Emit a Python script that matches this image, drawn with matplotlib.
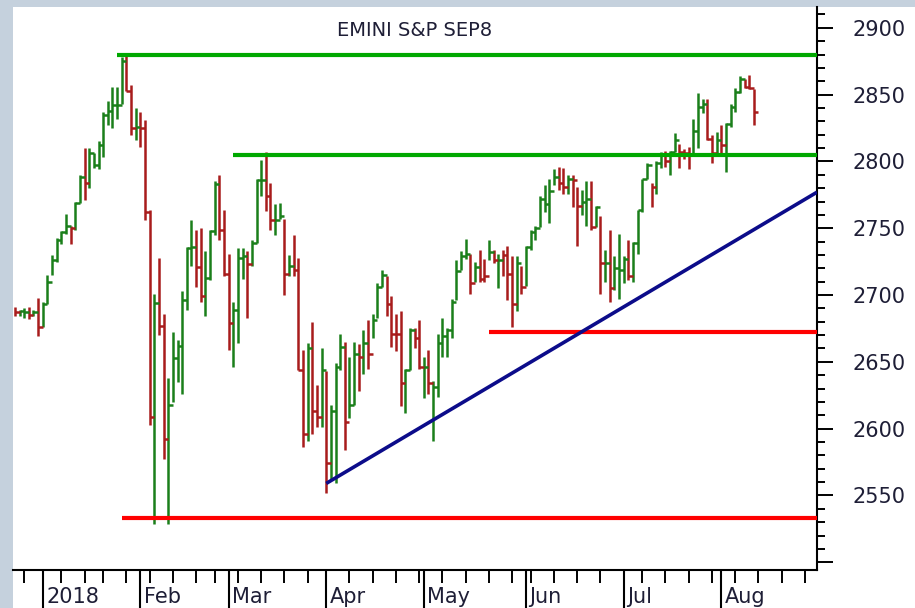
import numpy as np
import pandas as pd
import matplotlib
matplotlib.use("Agg")
import matplotlib.pyplot as plt
import matplotlib.transforms as mtransforms
from matplotlib.patches import Rectangle

# ---------------- data (daily bars, Dec 21 2017 .. Aug 10 2018) ----------------
holidays = ["2017-12-25", "2018-01-01", "2018-01-15", "2018-02-19",
            "2018-03-30", "2018-05-28", "2018-07-04"]

high_dec = [2691, 2689, 2690, 2691, 2689, 2698]
low_dec = [2684, 2684, 2683, 2682, 2684, 2669]
close_dec = [2687, 2688, 2687, 2685, 2687, 2676]
dir_dec = "rggrgr"

high_jan = [2695, 2715, 2730, 2743, 2748, 2761, 2752, 2770, 2790, 2810, 2810,
            2806, 2815, 2837, 2845, 2856, 2856, 2878, 2880, 2857, 2840]
low_jan = [2676, 2693, 2715, 2725, 2738, 2746, 2738, 2749, 2769, 2771, 2780,
           2795, 2794, 2803, 2827, 2825, 2832, 2843, 2853, 2820, 2816]
close_jan = [2693, 2710, 2726, 2741, 2747, 2752, 2750, 2769, 2788, 2784, 2806,
             2797, 2812, 2835, 2838, 2842, 2842, 2875, 2853, 2825, 2826]
dir_jan = "ggggggrggrggggggggrrg"

high_feb = [2837, 2831, 2764, 2701, 2728, 2686, 2638, 2672, 2666, 2703, 2736,
            2756, 2749, 2750, 2733, 2749, 2785, 2790, 2764]
low_feb = [2811, 2756, 2603, 2529, 2670, 2577, 2529, 2620, 2635, 2626, 2689,
           2722, 2706, 2695, 2684, 2711, 2745, 2741, 2714]
close_feb = [2825, 2762, 2609, 2694, 2677, 2592, 2618, 2653, 2662, 2696, 2735,
             2736, 2721, 2699, 2713, 2748, 2783, 2749, 2716]
dir_feb = "rrrgrrggggggrrgggrr"

high_mar = [2731, 2695, 2735, 2735, 2733, 2741, 2787, 2801, 2807, 2784, 2768,
            2769, 2757, 2730, 2745, 2728, 2659, 2664, 2680, 2633, 2660]
low_mar = [2659, 2646, 2664, 2712, 2683, 2722, 2739, 2774, 2763, 2749, 2745,
           2757, 2700, 2714, 2714, 2644, 2586, 2591, 2596, 2601, 2601]
close_mar = [2679, 2689, 2728, 2729, 2723, 2739, 2786, 2786, 2774, 2756, 2756,
             2759, 2716, 2722, 2719, 2644, 2596, 2660, 2613, 2609, 2644]
dir_mar = "rgggrgggrrggrgrrrgrrg"

high_apr = [2643, 2618, 2649, 2671, 2665, 2654, 2665, 2663, 2674, 2681, 2686,
            2709, 2719, 2714, 2699, 2686, 2688, 2645, 2675, 2675, 2681]
low_apr = [2552, 2562, 2559, 2644, 2584, 2608, 2618, 2628, 2641, 2645, 2668,
           2683, 2706, 2684, 2661, 2658, 2617, 2612, 2644, 2660, 2645]
close_apr = [2574, 2613, 2646, 2661, 2605, 2618, 2656, 2654, 2664, 2656, 2681,
             2706, 2715, 2693, 2671, 2671, 2634, 2644, 2674, 2668, 2646]
dir_apr = "rgggrggrgrgggrrrrggrr"

high_may = [2654, 2659, 2636, 2671, 2683, 2675, 2697, 2726, 2733, 2742, 2731,
            2725, 2734, 2727, 2741, 2734, 2731, 2734, 2737, 2729, 2729, 2722]
low_may = [2623, 2626, 2591, 2624, 2654, 2654, 2668, 2696, 2719, 2727, 2701,
           2710, 2710, 2710, 2726, 2724, 2705, 2714, 2696, 2676, 2688, 2701]
close_may = [2646, 2634, 2631, 2664, 2669, 2674, 2695, 2718, 2729, 2731, 2709,
             2721, 2712, 2714, 2732, 2726, 2726, 2730, 2716, 2693, 2724, 2706]
dir_may = "grggggggggrgrrgrgrrrgr"

high_jun = [2737, 2749, 2752, 2774, 2782, 2787, 2794, 2796, 2795, 2790, 2790,
            2781, 2779, 2785, 2785, 2767, 2759, 2734, 2749, 2729, 2746]
low_jun = [2707, 2734, 2741, 2751, 2762, 2754, 2782, 2779, 2776, 2776, 2766,
           2737, 2760, 2752, 2749, 2751, 2701, 2710, 2695, 2704, 2697]
close_jun = [2736, 2747, 2750, 2772, 2768, 2778, 2788, 2784, 2781, 2787, 2786,
             2767, 2770, 2772, 2751, 2766, 2724, 2724, 2705, 2720, 2719]
dir_jun = "gggggggrrgrrggrgrgrgg"

high_jul = [2729, 2741, 2740, 2764, 2787, 2799, 2784, 2800, 2807, 2808, 2808,
            2821, 2813, 2809, 2811, 2832, 2851, 2847, 2847, 2820, 2822]
low_jul = [2709, 2711, 2710, 2731, 2762, 2787, 2766, 2776, 2795, 2796, 2790,
           2807, 2795, 2802, 2794, 2806, 2810, 2836, 2816, 2799, 2804]
close_jul = [2727, 2714, 2739, 2764, 2787, 2797, 2781, 2799, 2805, 2800, 2807,
             2816, 2807, 2806, 2805, 2823, 2841, 2843, 2817, 2806, 2816]
dir_jul = "grggggrggrggrrrgggrrg"

high_aug = [2827, 2829, 2843, 2855, 2864, 2862, 2865, 2854]
low_aug = [2806, 2792, 2826, 2837, 2851, 2855, 2854, 2827]
close_aug = [2812, 2828, 2841, 2852, 2862, 2856, 2855, 2837]
dir_aug = "rggggrrr"

# support / resistance levels: (value, start date)
green_levels = [(2880, "2018-01-25"), (2805, "2018-03-02")]
red_levels = [(2533, "2018-01-26"), (2672, "2018-05-21")]
trend_start = ("2018-04-02", 2559)
trend_end = ("2018-08-29", 2777)

title = "EMINI S&P SEP8"
month_labels = ["2018", "Feb", "Mar", "Apr", "May", "Jun", "Jul", "Aug"]

# ---------------- assemble ----------------
high = np.array(high_dec + high_jan + high_feb + high_mar + high_apr + high_may + high_jun + high_jul + high_aug, float)
low = np.array(low_dec + low_jan + low_feb + low_mar + low_apr + low_may + low_jun + low_jul + low_aug, float)
close = np.array(close_dec + close_jan + close_feb + close_mar + close_apr + close_may + close_jun + close_jul + close_aug, float)
dirs = dir_dec + dir_jan + dir_feb + dir_mar + dir_apr + dir_may + dir_jun + dir_jul + dir_aug

days = pd.bdate_range("2017-12-21", "2018-08-31")
days = days[~days.isin(pd.to_datetime(holidays))]


def idx(d):
    return days.get_loc(pd.Timestamp(d))


n = len(close)
x = np.arange(n)
UP, DN = "#1a7f1a", "#a81c1c"
cols = [UP if c == "g" else DN for c in dirs]

W, H = 915, 608
fig = plt.figure(figsize=(W / 100, H / 100), dpi=100)
fig.patch.set_facecolor("#c5d1dd")
fig.add_artist(Rectangle((13 / W, 0), 1, (H - 7) / H, transform=fig.transFigure,
                         facecolor="white", edgecolor="none", zorder=0))

ax = fig.add_axes([13 / W, 38 / H, 804 / W, 563 / H])
ax.set_facecolor("none")
ax.set_xlim(-0.4, idx("2018-08-29") + 0.6)
ax.set_ylim(2494.2, 2915.6)

# bars
ax.vlines(x, low, high, colors=cols, lw=1.8, zorder=3)
ax.hlines(close, x, x + 1.0, colors=cols, lw=1.8, zorder=3)

# levels
xr = ax.get_xlim()[1]
for val, d in green_levels:
    ax.hlines(val, idx(d), xr, colors="#00a800", lw=3.0, zorder=4)
for val, d in red_levels:
    ax.hlines(val, idx(d), xr, colors="#ff0000", lw=3.0, zorder=4)
ax.plot([idx(trend_start[0]), idx(trend_end[0]) + 0.6], [trend_start[1], trend_end[1]],
        color="#0c0c8a", lw=2.6, zorder=5, solid_capstyle="butt")

# spines
for s in ["left", "top"]:
    ax.spines[s].set_visible(False)
for s in ["right", "bottom"]:
    ax.spines[s].set_linewidth(1.5)
    ax.spines[s].set_color("black")

# y axis on right
ax.yaxis.tick_right()
ax.set_yticks(list(range(2500, 2901, 50)))
ax.set_yticklabels([""] + [str(v) for v in range(2550, 2901, 50)])
ax.set_yticks(list(range(2500, 2911, 10)), minor=True)
ax.tick_params(axis="y", which="major", direction="out", length=11.5, width=1.4,
               pad=14, labelsize=15, labelcolor="#1e1e36", right=True, left=False)
ax.tick_params(axis="y", which="minor", direction="out", length=5.8, width=1.4,
               right=True, left=False)

# x axis: month starts (major) and week starts (minor)
s = pd.Series(np.arange(len(days)), index=days)
month_pos = [int(s[s.index.to_period("M") == p].iloc[0]) for p in
             pd.period_range("2018-01", "2018-08", freq="M")]
week_first = s.groupby(s.index.to_period("W")).first().values[1:]
week_pos = [int(p) for p in week_first if int(p) not in month_pos and p <= idx("2018-08-29")]
ax.set_xticks(month_pos)
ax.set_xticklabels([])
ax.set_xticks(week_pos, minor=True)
ax.tick_params(axis="x", which="major", direction="out", length=28, width=1.5, bottom=True)
ax.tick_params(axis="x", which="minor", direction="out", length=9.5, width=1.4, bottom=True)

trans = mtransforms.offset_copy(mtransforms.blended_transform_factory(ax.transData, ax.transAxes),
                                fig=fig, x=3.5, y=0, units="dots")
for p, lab in zip(month_pos, month_labels):
    ax.text(p, -0.048, lab, transform=trans, ha="left", va="center",
            fontsize=15, color="#1e1e36", clip_on=False)

fig.text(415 / W, 1 - 31 / H, title, ha="center", va="center", fontsize=14, color="#1e1e36")

fig.savefig("out.png", dpi=100, facecolor=fig.get_facecolor())
